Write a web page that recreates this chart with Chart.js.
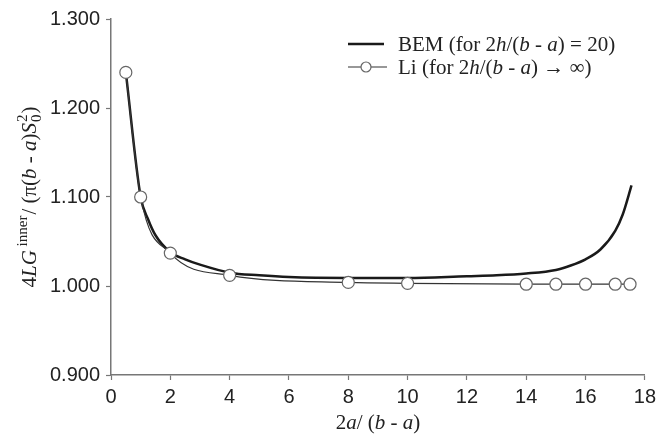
<!DOCTYPE html>
<html>
<head>
<meta charset="utf-8">
<script src="https://cdn.jsdelivr.net/npm/chart.js@4.4.1/dist/chart.umd.min.js"></script>
<style>
  html, body { margin: 0; padding: 0; background: #fff; }
  #wrap { width: 661px; height: 436px; }
</style>
</head>
<body>
<div id="wrap"><canvas id="c" width="661" height="436"></canvas></div>
<script>
// BEM solution, finite height 2h/(b - a) = 20
const bemX = [0.5, 1, 1.25, 1.5, 2, 2.5, 3, 4, 5, 6, 8, 10, 12, 13, 14, 15, 15.5, 16, 16.5, 17, 17.25, 17.55];
const bemY = [1.240, 1.100, 1.075, 1.057, 1.038, 1.030, 1.024, 1.015, 1.012, 1.010, 1.009, 1.009, 1.011, 1.012, 1.014, 1.018, 1.023, 1.030, 1.041, 1.062, 1.080, 1.113];

// Li's closed-form result, infinite height
const liX = [0.5, 1, 2, 4, 8, 10, 14, 15, 16, 17, 17.5];
const liY = [1.240, 1.100, 1.037, 1.012, 1.004, 1.003, 1.002, 1.002, 1.002, 1.002, 1.002];

const xTicks = [0, 2, 4, 6, 8, 10, 12, 14, 16, 18];
const yTicks = [0.900, 1.000, 1.100, 1.200, 1.300];

const SERIF = "'Liberation Serif', 'Times New Roman', serif";
const SANS = "'Liberation Sans', Arial, sans-serif";

const toPts = (xs, ys) => xs.map((x, i) => ({ x: x, y: ys[i] }));

// Mixed-style text runs: each segment may be italic, smaller, raised/lowered,
// or carry a stacked second glyph (sub/superscript pair).
function segFont(s, base) {
  return (s.italic ? 'italic ' : '') + (s.size || base) + 'px ' + SERIF;
}
function richWidth(ctx, segs, base) {
  let w = 0;
  for (const s of segs) {
    ctx.font = segFont(s, base);
    w += s.stack ? Math.max(ctx.measureText(s.t).width, ctx.measureText(s.stack).width)
                 : ctx.measureText(s.t).width;
    w += (s.kern || 0);
  }
  return w;
}
function drawRich(ctx, segs, x, y, base) {
  let cx = x;
  for (const s of segs) {
    ctx.font = segFont(s, base);
    ctx.fillText(s.t, cx, y + (s.dy || 0));
    let w = ctx.measureText(s.t).width;
    if (s.stack) {
      ctx.fillText(s.stack, cx, y + (s.dy2 || 0));
      w = Math.max(w, ctx.measureText(s.stack).width);
    }
    cx += w + (s.kern || 0);
  }
  return cx - x;
}

const yTitle = [
  { t: '4' }, { t: 'LG', italic: true },
  { t: ' inner', size: 15, dy: -9, kern: 1 },
  { t: '/ (π(' }, { t: 'b', italic: true }, { t: ' - ' }, { t: 'a', italic: true },
  { t: ')' }, { t: 'S', italic: true, kern: 1 },
  { t: '0', size: 15, dy: 5, stack: '2', dy2: -9, kern: 1 },
  { t: ')' }
];
const xTitle = [
  { t: '2' }, { t: 'a', italic: true }, { t: '/ (' }, { t: 'b', italic: true },
  { t: ' - ' }, { t: 'a', italic: true }, { t: ')' }
];
const legendRows = [
  { segs: [{ t: 'BEM (for 2' }, { t: 'h', italic: true }, { t: '/(' }, { t: 'b', italic: true },
           { t: ' - ' }, { t: 'a', italic: true }, { t: ') = 20)' }], marker: false, y: 44 },
  { segs: [{ t: 'Li (for 2' }, { t: 'h', italic: true }, { t: '/(' }, { t: 'b', italic: true },
           { t: ' - ' }, { t: 'a', italic: true }, { t: ') → ∞)' }], marker: true, y: 67 }
];

const annotations = {
  id: 'annotations',
  afterDraw(chart) {
    const ctx = chart.ctx;
    const area = chart.chartArea;
    ctx.save();
    ctx.fillStyle = '#222';
    ctx.textBaseline = 'alphabetic';

    // x axis title
    const wx = richWidth(ctx, xTitle, 21);
    drawRich(ctx, xTitle, (area.left + area.right) / 2 - wx / 2, 429, 21);

    // y axis title, rotated
    const wy = richWidth(ctx, yTitle, 21);
    ctx.save();
    ctx.translate(36, (area.top + area.bottom) / 2);
    ctx.rotate(-Math.PI / 2);
    drawRich(ctx, yTitle, -wy / 2, 0, 21);
    ctx.restore();

    // legend
    legendRows.forEach(row => {
      const ly = row.y;
      ctx.beginPath();
      if (row.marker) {
        ctx.strokeStyle = '#333';
        ctx.lineWidth = 1.2;
        ctx.moveTo(348, ly); ctx.lineTo(387, ly);
        ctx.stroke();
        ctx.beginPath();
        ctx.fillStyle = '#fff';
        ctx.strokeStyle = '#666';
        ctx.arc(366, ly, 5, 0, Math.PI * 2);
        ctx.fill(); ctx.stroke();
        ctx.fillStyle = '#222';
      } else {
        ctx.strokeStyle = '#1a1a1a';
        ctx.lineWidth = 2.5;
        ctx.moveTo(348, ly); ctx.lineTo(384, ly);
        ctx.stroke();
      }
      drawRich(ctx, row.segs, 398, ly + 7, 21);
    });
    ctx.restore();
  }
};

new Chart(document.getElementById('c'), {
  type: 'scatter',
  data: {
    datasets: [
      {
        label: 'Li',
        data: toPts(liX, liY),
        showLine: true,
        borderColor: '#333',
        borderWidth: 1.2,
        pointRadius: 6,
        pointHoverRadius: 6,
        pointBackgroundColor: '#fff',
        pointBorderColor: '#666',
        pointBorderWidth: 1.2,
        cubicInterpolationMode: 'monotone',
        order: 0
      },
      {
        label: 'BEM',
        data: toPts(bemX, bemY),
        showLine: true,
        borderColor: '#1a1a1a',
        borderWidth: 2.5,
        pointRadius: 0,
        cubicInterpolationMode: 'monotone',
        order: 1
      }
    ]
  },
  options: {
    responsive: false,
    animation: false,
    events: [],
    layout: { padding: { top: 19, right: 10, left: 0, bottom: 0 } },
    plugins: { legend: { display: false }, tooltip: { enabled: false } },
    scales: {
      x: {
        type: 'linear',
        min: 0, max: 18,
        afterFit(s) { s.height = 61; },
        afterBuildTicks(s) { s.ticks = xTicks.map(v => ({ value: v })); },
        grid: { drawOnChartArea: false, drawTicks: true, tickLength: 5, tickColor: '#777', tickWidth: 1.2 },
        border: { color: '#777', width: 1.5 },
        ticks: { color: '#222', font: { family: SANS, size: 20 }, padding: 5, maxRotation: 0, autoSkip: false }
      },
      y: {
        type: 'linear',
        min: 0.9, max: 1.3,
        afterFit(s) { s.width = 111; },
        afterBuildTicks(s) { s.ticks = yTicks.map(v => ({ value: v })); },
        grid: { drawOnChartArea: false, drawTicks: true, tickLength: 5, tickColor: '#777', tickWidth: 1.2 },
        border: { color: '#777', width: 1.5 },
        ticks: { color: '#222', font: { family: SANS, size: 20 }, padding: 6, autoSkip: false,
                 callback: v => v.toFixed(3) }
      }
    }
  },
  plugins: [annotations]
});
</script>
</body>
</html>
